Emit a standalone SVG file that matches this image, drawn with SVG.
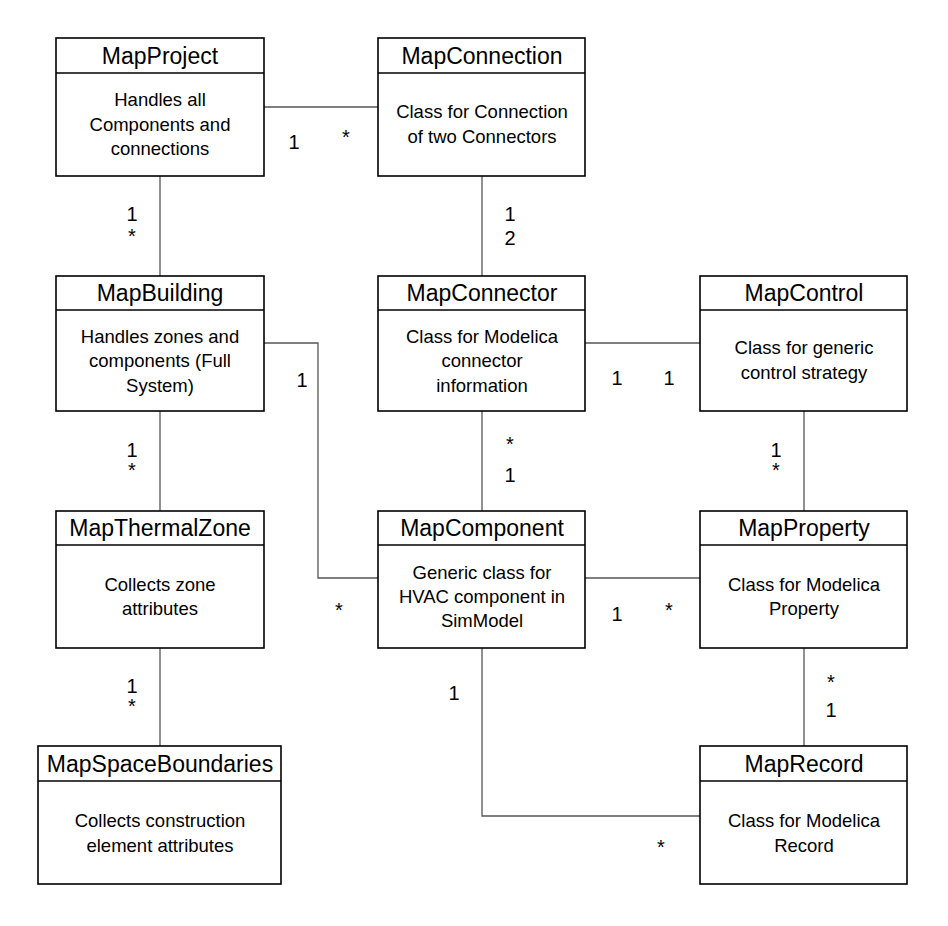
<svg xmlns="http://www.w3.org/2000/svg" width="948" height="926" viewBox="0 0 948 926">
<style>
.box{fill:#fff;stroke:#000;stroke-width:1.6}
.hd{stroke:#000;stroke-width:1.6}
.t{font-family:"Liberation Sans",Arial,sans-serif;font-size:23px;text-anchor:middle;fill:#000}
.b{font-family:"Liberation Sans",Arial,sans-serif;font-size:18.5px;text-anchor:middle;fill:#000}
.c{fill:none;stroke:#555;stroke-width:1.3}
.m{font-family:"Liberation Sans",Arial,sans-serif;font-size:20px;text-anchor:middle;fill:#000}
</style>
<rect width="948" height="926" fill="#fff"/>
<g id="connectors">
<path class="c" d="M264 107H378"/>
<path class="c" d="M160 176V276"/>
<path class="c" d="M482 176V276"/>
<path class="c" d="M264 343H318V578H378"/>
<path class="c" d="M585 343H700"/>
<path class="c" d="M160 411V511"/>
<path class="c" d="M482 411V511"/>
<path class="c" d="M804 411V511"/>
<path class="c" d="M585 578H700"/>
<path class="c" d="M160 648V746"/>
<path class="c" d="M804 648V746"/>
<path class="c" d="M482 648V816H700"/>
<text class="m" x="294" y="149">1</text>
<text class="m" x="346" y="144">*</text>
<text class="m" x="132" y="221">1</text>
<text class="m" x="132" y="243">*</text>
<text class="m" x="510" y="221">1</text>
<text class="m" x="510" y="245">2</text>
<text class="m" x="302" y="387">1</text>
<text class="m" x="339" y="617">*</text>
<text class="m" x="617" y="385">1</text>
<text class="m" x="669" y="385">1</text>
<text class="m" x="132" y="457">1</text>
<text class="m" x="132" y="477">*</text>
<text class="m" x="510" y="451">*</text>
<text class="m" x="510" y="482">1</text>
<text class="m" x="776" y="457">1</text>
<text class="m" x="776" y="477">*</text>
<text class="m" x="617" y="621">1</text>
<text class="m" x="669" y="617">*</text>
<text class="m" x="132" y="693">1</text>
<text class="m" x="132" y="713">*</text>
<text class="m" x="831" y="689">*</text>
<text class="m" x="831" y="717">1</text>
<text class="m" x="454" y="700">1</text>
<text class="m" x="661" y="854">*</text>
</g>
<g id="MapProject">
<rect class="box" x="56" y="38" width="208" height="138"/>
<line class="hd" x1="56" y1="73" x2="264" y2="73"/>
<text class="t" x="160" y="64">MapProject</text>
<text class="b" x="160" y="106">Handles all</text>
<text class="b" x="160" y="131">Components and</text>
<text class="b" x="160" y="155">connections</text>
</g>
<g id="MapConnection">
<rect class="box" x="378" y="38" width="207" height="138"/>
<line class="hd" x1="378" y1="73" x2="585" y2="73"/>
<text class="t" x="482" y="64">MapConnection</text>
<text class="b" x="482" y="118">Class for Connection</text>
<text class="b" x="482" y="143">of two Connectors</text>
</g>
<g id="MapBuilding">
<rect class="box" x="56" y="276" width="208" height="135"/>
<line class="hd" x1="56" y1="310" x2="264" y2="310"/>
<text class="t" x="160" y="301">MapBuilding</text>
<text class="b" x="160" y="343">Handles zones and</text>
<text class="b" x="160" y="367">components (Full</text>
<text class="b" x="160" y="392">System)</text>
</g>
<g id="MapConnector">
<rect class="box" x="378" y="276" width="207" height="135"/>
<line class="hd" x1="378" y1="310" x2="585" y2="310"/>
<text class="t" x="482" y="301">MapConnector</text>
<text class="b" x="482" y="343">Class for Modelica</text>
<text class="b" x="482" y="367">connector</text>
<text class="b" x="482" y="392">information</text>
</g>
<g id="MapControl">
<rect class="box" x="700" y="276" width="207" height="135"/>
<line class="hd" x1="700" y1="310" x2="907" y2="310"/>
<text class="t" x="804" y="301">MapControl</text>
<text class="b" x="804" y="354">Class for generic</text>
<text class="b" x="804" y="379">control strategy</text>
</g>
<g id="MapThermalZone">
<rect class="box" x="56" y="511" width="208" height="137"/>
<line class="hd" x1="56" y1="545" x2="264" y2="545"/>
<text class="t" x="160" y="536">MapThermalZone</text>
<text class="b" x="160" y="591">Collects zone</text>
<text class="b" x="160" y="615">attributes</text>
</g>
<g id="MapComponent">
<rect class="box" x="378" y="511" width="207" height="137"/>
<line class="hd" x1="378" y1="545" x2="585" y2="545"/>
<text class="t" x="482" y="536">MapComponent</text>
<text class="b" x="482" y="579">Generic class for</text>
<text class="b" x="482" y="603">HVAC component in</text>
<text class="b" x="482" y="627">SimModel</text>
</g>
<g id="MapProperty">
<rect class="box" x="700" y="511" width="207" height="137"/>
<line class="hd" x1="700" y1="545" x2="907" y2="545"/>
<text class="t" x="804" y="536">MapProperty</text>
<text class="b" x="804" y="591">Class for Modelica</text>
<text class="b" x="804" y="615">Property</text>
</g>
<g id="MapSpaceBoundaries">
<rect class="box" x="38" y="746" width="243" height="138"/>
<line class="hd" x1="38" y1="781" x2="281" y2="781"/>
<text class="t" x="160" y="772">MapSpaceBoundaries</text>
<text class="b" x="160" y="827">Collects construction</text>
<text class="b" x="160" y="852">element attributes</text>
</g>
<g id="MapRecord">
<rect class="box" x="700" y="746" width="207" height="138"/>
<line class="hd" x1="700" y1="781" x2="907" y2="781"/>
<text class="t" x="804" y="772">MapRecord</text>
<text class="b" x="804" y="827">Class for Modelica</text>
<text class="b" x="804" y="852">Record</text>
</g>
</svg>
